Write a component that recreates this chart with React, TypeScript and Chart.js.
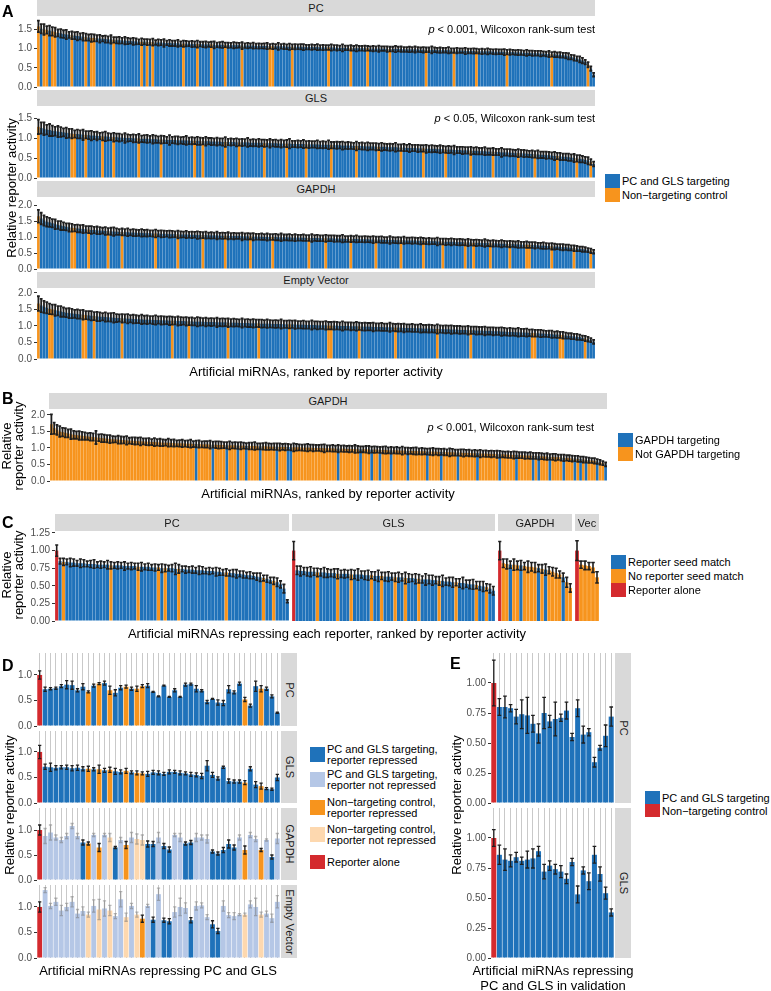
import React, { useEffect, useRef } from "react";
import { Chart, registerables } from "chart.js";
Chart.register(...registerables);

const FONT = '"Liberation Sans", Arial, Helvetica, sans-serif';
const BLUE = "#1f72ba";
const ORANGE = "#f7941d";
const RED = "#d42a2e";
const LBLUE = "#b5c7e6";
const LORANGE = "#fdd8af";
const STRIP = "#d9d9d9";
const ERR = "#1e1e1e";
const ERR_LIGHT = "rgba(120,120,120,0.55)";

// ---------- Panel A (relative activity x100, ranked) ----------
const A_PC = [
  158,152,150,149,147,145,143,141,140,138,137,136,135,134,133,132,131,130,129,128,
  128,127,126,126,125,124,124,123,122,122,121,121,120,120,119,119,118,118,118,117,
  117,117,116,116,116,115,115,115,114,114,114,113,113,113,113,112,112,112,112,111,
  111,111,111,110,110,110,110,110,109,109,109,109,109,108,108,108,108,108,107,107,
  107,107,107,106,106,106,106,106,106,105,105,105,105,105,105,104,104,104,104,104,
  104,103,103,103,103,103,103,102,102,102,102,102,102,101,101,101,101,101,101,100,
  100,100,100,100,100,99,99,99,99,99,99,98,98,98,98,98,98,97,97,97,
  97,97,97,96,96,96,96,96,95,95,95,95,95,94,94,94,94,94,93,93,
  93,93,93,92,92,92,92,91,91,91,91,90,90,90,89,89,89,88,88,88,
  87,87,86,86,85,85,84,84,83,82,80,78,76,74,72,69,65,58,48,32,
];
const A_PC_ERR = [
  15,12,14,10,13,11,12,9,11,10,12,8,10,9,11,8,10,9,8,10,
  9,8,10,7,9,8,11,7,8,9,7,10,8,7,9,8,6,9,7,8,
  7,9,6,8,7,10,6,8,7,7,9,6,8,7,6,8,7,9,6,7,
  8,6,7,9,6,7,8,6,7,6,8,7,6,9,6,7,6,8,6,7,
  6,7,8,6,7,6,9,6,7,6,8,6,7,6,7,8,6,6,7,6,
  8,6,7,6,6,8,6,7,6,9,6,6,7,6,8,6,6,7,6,6,
  7,6,8,6,6,7,6,6,8,6,7,6,6,7,6,8,6,6,7,6,
  6,9,6,6,7,6,6,8,6,6,7,6,6,8,6,6,7,6,6,7,
  6,8,6,6,7,6,6,8,6,7,6,6,7,6,6,8,6,7,6,6,
  7,6,6,8,6,7,6,7,6,7,8,6,7,6,8,7,6,7,6,5,
];
const A_PC_CTRL = [0,2,3,5,6,12,17,19,20,27,37,39,41,52,57,62,67,73,83,84,91,104,112,118,126,139,149,157,168,184,197];

const A_GLS = [
  128,125,123,121,120,118,117,116,115,114,113,112,111,110,110,109,108,108,107,106,
  106,105,105,104,104,103,103,102,102,101,101,100,100,100,99,99,99,98,98,98,
  97,97,97,96,96,96,95,95,95,95,94,94,94,94,93,93,93,93,92,92,
  92,92,91,91,91,91,90,90,90,90,90,89,89,89,89,89,88,88,88,88,
  88,87,87,87,87,87,86,86,86,86,86,85,85,85,85,85,84,84,84,84,
  84,83,83,83,83,82,82,82,82,81,81,81,81,80,80,80,80,79,79,79,
  79,78,78,78,78,77,77,77,77,76,76,76,75,75,75,75,74,74,74,73,
  73,73,73,72,72,72,71,71,71,70,70,70,69,69,69,68,68,68,67,67,
  67,66,66,66,65,65,64,64,64,63,63,62,62,62,61,61,60,60,59,59,
  58,58,57,57,56,55,55,54,53,53,52,51,50,49,48,47,45,43,40,35,
];
const A_GLS_ERR = [
  18,14,16,12,15,13,11,14,12,10,13,11,12,9,11,10,13,9,10,12,
  9,11,8,10,12,9,8,11,9,10,8,12,9,8,10,9,11,8,9,10,
  8,11,9,8,10,9,8,12,8,9,10,8,9,11,8,9,8,10,9,8,
  11,8,9,8,10,8,9,12,8,9,8,10,8,9,8,11,8,9,8,10,
  8,9,8,11,8,9,8,10,8,9,12,8,8,9,8,10,8,9,8,8,
  10,8,9,8,11,8,8,9,8,10,8,9,8,8,11,8,9,8,10,8,
  8,9,8,10,8,8,9,8,11,8,8,9,8,10,8,8,9,8,8,10,
  8,9,8,8,10,8,8,9,8,11,8,8,9,8,8,10,8,9,8,8,
  10,8,8,9,8,8,11,8,8,9,8,8,10,8,9,8,8,9,8,10,
  8,8,9,8,8,10,8,9,8,8,9,8,10,8,9,8,8,9,7,6,
];
const A_GLS_CTRL = [0,12,13,17,23,27,36,44,56,59,67,72,81,89,96,105,114,122,130,138,146,155,163,172,178,186,193,198];

const A_GAPDH = [
  165,158,152,148,146,143,140,138,136,134,132,130,129,128,127,126,125,124,123,122,
  122,121,120,120,119,118,118,117,117,116,116,115,115,114,114,113,113,113,112,112,
  112,111,111,111,110,110,110,109,109,109,108,108,108,108,107,107,107,106,106,106,
  106,105,105,105,105,104,104,104,104,103,103,103,103,102,102,102,102,101,101,101,
  101,100,100,100,100,100,99,99,99,99,99,98,98,98,98,98,97,97,97,97,
  97,96,96,96,96,96,95,95,95,95,94,94,94,94,94,93,93,93,93,92,
  92,92,92,92,91,91,91,91,90,90,90,90,89,89,89,89,88,88,88,87,
  87,87,87,86,86,86,85,85,85,85,84,84,84,83,83,83,82,82,82,81,
  81,81,80,80,80,79,79,79,78,78,78,77,77,76,76,76,75,75,74,74,
  73,73,72,72,71,70,70,69,68,68,67,66,65,64,63,62,61,59,57,54,
];
const A_GAPDH_ERR = [
  20,18,16,15,14,13,15,12,14,12,11,13,12,10,12,11,13,10,11,12,
  10,12,11,9,12,10,11,13,10,9,11,10,12,9,11,10,9,12,10,11,
  9,10,12,9,11,10,9,11,10,9,12,10,9,11,9,10,9,12,10,9,
  11,9,10,9,12,9,10,9,11,9,10,9,9,12,9,10,9,11,9,9,
  10,9,11,9,9,10,9,12,9,9,10,9,11,9,9,10,9,9,12,9,
  10,9,9,11,9,9,10,9,9,12,9,9,10,9,11,9,9,10,9,9,
  11,9,9,10,9,9,12,9,9,10,9,11,9,9,10,9,9,11,9,9,
  10,9,9,12,9,9,10,9,11,9,9,10,9,9,11,9,9,10,9,9,
  12,9,9,10,9,9,11,9,9,10,9,9,11,9,9,10,9,9,10,8,
  9,10,9,8,10,9,8,9,10,8,9,8,9,8,7,8,7,6,7,6,
];
const A_GAPDH_CTRL = [0,12,13,18,25,30,42,50,59,67,76,84,97,103,112,121,130,138,145,153,156,162,169,175,176,184,192,198];

const A_EV = [
  168,162,158,155,152,150,148,146,144,142,140,139,138,137,136,135,134,133,132,131,
  130,129,128,128,127,126,126,125,124,124,123,123,122,122,121,121,120,120,119,119,
  119,118,118,118,117,117,117,116,116,116,115,115,115,114,114,114,113,113,113,113,
  112,112,112,112,111,111,111,111,110,110,110,110,109,109,109,109,108,108,108,108,
  107,107,107,107,106,106,106,106,105,105,105,105,104,104,104,104,103,103,103,103,
  102,102,102,102,101,101,101,101,100,100,100,100,99,99,99,99,98,98,98,98,
  97,97,97,97,96,96,96,96,95,95,95,94,94,94,94,93,93,93,92,92,
  92,92,91,91,91,90,90,90,89,89,89,88,88,88,87,87,87,86,86,86,
  85,85,85,84,84,84,83,83,82,82,82,81,81,80,80,80,79,79,78,78,
  77,77,76,76,75,74,74,73,72,71,70,69,68,67,66,64,62,60,57,52,
];
const A_EV_ERR = [
  22,20,18,17,16,15,17,14,16,14,13,15,14,12,14,13,15,12,13,14,
  12,14,13,11,14,12,13,15,12,11,13,12,14,11,13,12,11,14,12,13,
  11,12,14,11,13,12,11,13,12,11,14,12,11,13,11,12,11,14,12,11,
  13,11,12,11,14,11,12,11,13,11,12,11,11,14,11,12,11,13,11,11,
  12,11,13,11,11,12,11,14,11,11,12,11,13,11,11,12,11,11,14,11,
  12,11,11,13,11,11,12,11,11,14,11,11,12,11,13,11,11,12,11,11,
  13,11,11,12,11,11,14,11,11,12,11,13,11,11,12,11,11,13,11,11,
  12,11,11,14,11,11,12,11,13,11,11,12,11,11,13,11,11,12,11,11,
  13,11,11,12,11,11,13,11,11,12,11,11,13,11,11,12,10,11,10,10,
  11,10,9,10,11,9,10,9,10,9,8,9,8,9,8,7,8,7,6,6,
];
const A_EV_CTRL = [0,4,5,16,17,20,30,48,54,68,79,90,104,105,115,128,143,155,177,178,187,188,196];

// ---------- Panel B ----------
const B_GAPDH = [
  172,160,155,150,148,146,144,142,140,139,138,137,136,135,134,133,132,131,130,129,
  128,127,126,126,125,124,124,123,122,122,121,121,120,120,119,119,118,118,117,117,
  116,116,116,115,115,114,114,114,113,113,113,112,112,112,111,111,111,110,110,110,
  109,109,109,108,108,108,108,107,107,107,106,106,106,106,105,105,105,105,104,104,
  104,104,103,103,103,103,102,102,102,102,101,101,101,101,100,100,100,100,99,99,
  99,99,98,98,98,98,97,97,97,97,96,96,96,96,95,95,95,95,94,94,
  94,93,93,93,93,92,92,92,91,91,91,91,90,90,90,89,89,89,89,88,
  88,88,87,87,87,86,86,86,85,85,85,84,84,84,83,83,83,82,82,82,
  81,81,81,80,80,79,79,79,78,78,77,77,77,76,76,75,75,74,74,73,
  73,72,72,71,70,70,69,68,68,67,66,65,64,63,62,61,59,57,54,50,
];
const B_ERR = [
  30,17,15,16,13,14,12,15,12,11,13,12,11,10,12,11,20,10,12,11,
  11,12,10,9,12,11,10,13,9,10,11,10,12,9,10,11,9,12,10,11,
  10,9,12,10,11,9,10,11,9,10,12,9,10,11,9,10,10,12,9,10,
  11,10,9,10,12,9,10,10,11,9,9,10,10,12,9,9,10,11,10,9,
  10,10,11,9,10,9,9,12,10,9,9,10,11,9,10,9,9,10,12,9,
  9,10,9,11,9,10,9,10,9,12,10,9,9,10,11,9,10,9,9,10,
  11,9,10,9,10,9,12,9,10,9,10,11,9,10,9,9,10,11,9,10,
  9,10,9,12,10,9,9,10,11,9,10,9,10,9,11,9,10,9,10,9,
  11,10,9,9,10,9,11,10,9,9,10,9,10,9,9,10,9,9,10,8,
  9,10,8,9,10,8,9,9,8,9,8,9,8,8,7,8,7,7,6,6,
];
const B_TARGETING = [52,58,63,67,70,75,81,85,86,103,111,115,118,122,128,135,140,146,153,161,167,173,175,179,184,188,190,192,196,199];

// ---------- Panel C (index 0 = reporter alone) ----------
const C_PC = [100,85,84,84,83,83,82,82,82,81,81,81,80,80,80,80,79,79,79,79,78,78,78,78,77,77,77,77,76,76,76,75,75,75,75,74,74,74,73,73,73,72,72,72,71,71,71,70,70,69,69,68,68,67,67,66,65,65,64,63,62,61,60,58,57,55,52,46,28];
const C_PC_ERR = [8,4,5,4,6,5,4,6,5,4,5,6,4,5,4,6,5,4,5,4,6,4,5,4,5,6,4,5,4,5,4,6,5,4,5,8,6,4,5,4,5,4,6,5,4,5,4,6,5,4,5,4,5,6,4,5,4,5,4,5,6,4,5,4,5,6,5,6,2];
const C_PC_NOSEED = [2,16,24,30,32,36,50,61,64];
const C_GLS = [100,72,71,71,70,70,70,69,69,69,68,68,68,67,67,67,67,66,66,66,66,65,65,65,64,64,64,63,63,63,62,62,62,61,61,61,60,60,59,59,59,58,58,57,57,56,56,55,55,54,54,53,52,52,51,50,49,48,46,43];
const C_GLS_ERR = [13,6,7,5,6,7,5,6,5,7,6,5,6,7,5,6,5,7,6,8,5,6,7,5,6,8,5,6,7,5,6,7,5,8,6,5,7,6,5,8,6,7,5,6,8,5,6,7,5,6,8,5,6,7,5,6,7,5,6,6];
const C_GLS_NOSEED = [7,13,17,23,26,30,33,37,43,48,54,57];
const C_GAPDH = [100,82,81,80,80,79,79,78,77,77,76,75,74,73,72,70,68,66,62,55,47];
const C_GAPDH_ERR = [13,6,7,5,8,6,7,5,8,6,7,5,6,8,5,6,7,5,6,7,6];
const C_GAPDH_SEED = [3,6,11,13,18];
const C_VEC = [100,80,79,78,76,62];
const C_VEC_ERR = [14,5,6,5,7,8];
const C_VEC_SEED: number[] = [];

// ---------- Panel D (45 bars, index 0 = reporter alone) ----------
const D_PC = [100,72,73,74,78,81,80,70,77,67,79,83,84,70,65,75,77,73,73,78,79,67,58,79,57,70,57,81,82,73,69,47,53,46,45,72,66,83,52,40,78,73,73,58,26];
const D_PC_ERR = [8,4,2,2,3,8,8,3,6,2,3,2,4,8,6,4,3,3,5,3,4,1,1,1,1,3,1,3,2,6,2,3,1,5,5,7,3,3,4,3,10,6,3,3,1];
const D_GLS = [100,71,70,69,70,70,68,69,67,67,66,66,64,65,62,61,63,60,59,58,57,60,59,57,61,61,59,58,56,55,53,73,55,48,70,43,42,42,40,67,36,33,28,27,50];
const D_GLS_ERR = [13,5,8,4,3,4,5,5,4,5,3,8,4,5,6,4,5,3,4,3,5,4,4,3,4,3,4,3,4,4,5,10,5,3,2,4,3,3,4,4,6,6,2,2,6];
const D_GAPDH = [100,88,95,85,80,88,108,88,75,73,90,65,90,85,65,80,70,85,82,80,72,72,85,68,61,90,85,73,75,85,85,82,57,53,60,72,65,85,60,90,82,60,80,46,83];
const D_GAPDH_ERR = [10,15,15,5,5,5,5,5,5,3,3,8,3,8,2,5,7,10,10,10,6,5,10,5,5,3,8,3,4,8,5,8,3,3,5,8,5,5,8,5,5,3,2,4,10];
const D_EV = [100,133,102,110,93,100,110,87,92,85,102,95,97,93,82,115,80,102,85,77,102,75,125,74,72,90,100,98,74,102,103,80,66,53,102,84,82,85,85,105,100,85,87,78,110];
const D_EV_ERR = [10,5,5,7,10,7,10,8,8,5,12,20,15,10,5,15,8,5,5,7,3,5,12,4,5,10,17,10,5,8,5,5,7,5,10,5,7,2,3,7,17,5,5,8,12];
const D_CONTROLS = [9,11,13,16,18,19,38,41];
const D_REPRESSED_GAPDH = [8,9,11,14,16,20,21,23,24,27,28,32,33,34,35,36,38,41,43];
const D_REPRESSED_EV = [19,21,23,24,28,32,33];

// ---------- Panel E (22 bars, index 0 = control) ----------
const E_PC = [100,80,80,79,72,74,73,66,58,75,68,70,71,77,55,79,57,59,34,46,56,72];
const E_PC_ERR = [19,7,9,3,6,12,15,7,8,13,5,14,3,7,3,7,7,3,4,2,9,8];
const E_GLS = [100,86,82,81,84,81,82,83,89,72,77,74,72,66,80,53,73,64,86,70,54,38];
const E_GLS_ERR = [7,8,9,5,4,3,7,8,4,6,4,4,5,4,3,7,3,7,7,6,5,3];

const TICKS_A = [0, 0.5, 1, 1.5];
const TICKS_A2 = [0, 0.5, 1, 1.5, 2];
const TICKS_C = [0, 0.25, 0.5, 0.75, 1, 1.25];
const TICKS_D = [0, 0.5, 1];
const TICKS_E = [0, 0.25, 0.5, 0.75, 1];

// ---------- colour builders ----------
const ctrlColors = (n: number, ctrl: number[]) =>
  Array.from({ length: n }, (_, i) => (ctrl.includes(i) ? ORANGE : BLUE));
const bColors = (n: number, tgt: number[]) =>
  Array.from({ length: n }, (_, i) => (tgt.includes(i) ? BLUE : ORANGE));
const cColors = (n: number, list: number[], inList: string, other: string) =>
  Array.from({ length: n }, (_, i) => (i === 0 ? RED : list.includes(i) ? inList : other));
const dColors = (n: number, rep: number[] | null) =>
  Array.from({ length: n }, (_, i) => {
    if (i === 0) return RED;
    const c = D_CONTROLS.includes(i);
    const r = rep === null || rep.includes(i);
    return c ? (r ? ORANGE : LORANGE) : r ? BLUE : LBLUE;
  });
const dErrColors = (n: number, rep: number[] | null) =>
  Array.from({ length: n }, (_, i) => (i === 0 || rep === null || rep.includes(i) ? ERR : ERR_LIGHT));
const eColors = (n: number) => Array.from({ length: n }, (_, i) => (i === 0 ? RED : BLUE));

// ---------- chart component ----------
function Bars(p: any) {
  const ref = useRef<HTMLCanvasElement>(null);
  const PAD = 8;
  useEffect(() => {
    const vals = p.values.map((v: number) => v / 100);
    const errs = p.errors.map((v: number) => v / 100);
    const capFrac = p.capFrac ?? 0.42;
    const errW = p.errW ?? 1;
    const chart = new Chart(ref.current as HTMLCanvasElement, {
      type: "bar",
      data: {
        labels: vals.map((_: number, i: number) => String(i)),
        datasets: [
          {
            data: vals,
            backgroundColor: p.colors,
            borderWidth: 0,
            barPercentage: p.barPct ?? 0.9,
            categoryPercentage: 1,
          },
        ],
      },
      options: {
        responsive: false,
        animation: false,
        events: [],
        layout: { padding: { top: PAD, bottom: PAD, left: 0, right: 0 } },
        plugins: { legend: { display: false }, tooltip: { enabled: false } },
        scales: {
          x: {
            type: "category",
            offset: true,
            display: !!p.grid,
            grid: { display: !!p.grid, offset: false, drawTicks: false, color: "#c9c9c9", lineWidth: 1 },
            ticks: { display: false, autoSkip: false },
            border: { display: false },
          },
          y: {
            min: 0,
            max: p.yMax,
            display: p.axisW > 0,
            afterFit: (s: any) => {
              s.width = p.axisW;
              s.paddingTop = 0;
              s.paddingBottom = 0;
            },
            afterBuildTicks: (s: any) => {
              s.ticks = (p.ticks || []).map((v: number) => ({ value: v }));
            },
            ticks: {
              autoSkip: false,
              callback: (v: any) => Number(v).toFixed(p.dec ?? 1),
              color: "#4d4d4d",
              font: { family: FONT, size: 10 },
              padding: 2,
            },
            grid: { drawOnChartArea: false, drawTicks: true, tickLength: 3, color: "#333333", lineWidth: 1 },
            border: { display: false },
          },
        },
      } as any,
      plugins: [
        {
          id: "errbars",
          afterDatasetsDraw(c: any) {
            const ctx = c.ctx;
            const xs = c.scales.x;
            const ys = c.scales.y;
            const step = (c.chartArea.right - c.chartArea.left) / vals.length;
            const cw = step * capFrac;
            ctx.save();
            vals.forEach((v: number, i: number) => {
              const e = errs[i];
              if (e == null || isNaN(e)) return;
              const x = xs.getPixelForValue(i);
              const y1 = ys.getPixelForValue(v - e);
              const y2 = ys.getPixelForValue(v + e);
              ctx.strokeStyle = (p.errColors && p.errColors[i]) || ERR;
              ctx.lineWidth = errW;
              ctx.beginPath();
              ctx.moveTo(x, y1);
              ctx.lineTo(x, y2);
              ctx.moveTo(x - cw, y1);
              ctx.lineTo(x + cw, y1);
              ctx.moveTo(x - cw, y2);
              ctx.lineTo(x + cw, y2);
              ctx.stroke();
            });
            ctx.restore();
          },
        },
      ],
    });
    return () => chart.destroy();
  }, []);
  return (
    <canvas
      ref={ref}
      width={p.axisW + p.width}
      height={p.height + 2 * PAD}
      style={{ position: "absolute", left: p.left - p.axisW, top: p.top - PAD, width: p.axisW + p.width, height: p.height + 2 * PAD }}
    />
  );
}

// ---------- text helpers ----------
function Txt({ x, y, children, size = 13, anchor = "start", weight = 400, color = "#000" }: any) {
  const tx = anchor === "middle" ? "-50%" : anchor === "end" ? "-100%" : "0";
  return (
    <div
      style={{
        position: "absolute", left: x, top: y, transform: `translate(${tx},-50%)`,
        fontFamily: FONT, fontSize: size, fontWeight: weight, color, whiteSpace: "nowrap", lineHeight: 1.15,
      }}
    >
      {children}
    </div>
  );
}
function VTxt({ x, y, lines, size = 13, rot = -90, lh = 13, color = "#000" }: any) {
  return (
    <div
      style={{
        position: "absolute", left: x, top: y, transform: `translate(-50%,-50%) rotate(${rot}deg)`,
        fontFamily: FONT, fontSize: size, color, whiteSpace: "nowrap", lineHeight: lh + "px", textAlign: "center",
      }}
    >
      {lines.map((l: string, i: number) => (
        <div key={i}>{l}</div>
      ))}
    </div>
  );
}
function Strip({ x, y, w, h, label, vertical }: any) {
  return (
    <div style={{ position: "absolute", left: x, top: y, width: w, height: h, background: STRIP }}>
      <div
        style={{
          position: "absolute", left: "50%", top: "50%",
          transform: `translate(-50%,-50%)${vertical ? " rotate(90deg)" : ""}`,
          fontFamily: FONT, fontSize: 11, color: "#1a1a1a", whiteSpace: "nowrap", lineHeight: 1,
        }}
      >
        {label}
      </div>
    </div>
  );
}
function Key({ x, y, w = 15, h = 14, color, lines, size = 11, lh = 11 }: any) {
  return (
    <>
      <div style={{ position: "absolute", left: x, top: y, width: w, height: h, background: color }} />
      <div
        style={{
          position: "absolute", left: x + w + 2, top: y + h / 2, transform: "translate(0,-50%)",
          fontFamily: FONT, fontSize: size, lineHeight: lh + "px", color: "#000", whiteSpace: "nowrap",
        }}
      >
        {lines.map((l: string, i: number) => (
          <div key={i}>{l}</div>
        ))}
      </div>
    </>
  );
}
const PVal = ({ x, y, text }: any) => (
  <Txt x={x} y={y} size={11} anchor="end">
    <span style={{ fontStyle: "italic" }}>p</span>
    {text}
  </Txt>
);

export default function App() {
  const denseA = { axisW: 37, left: 37, width: 558, capFrac: 0.5, errW: 1.8, barPct: 0.96 };
  const denseC = { capFrac: 0.45, errW: 1.6, barPct: 0.94, top: 522, height: 99, yMax: 1.406 };
  return (
    <div style={{ position: "absolute", left: 0, top: 0, width: 771, height: 991, background: "#fff", overflow: "hidden" }}>
      {/* ---------- Panel A ---------- */}
      <Bars {...denseA} top={18} height={69} yMax={1.8} ticks={TICKS_A} values={A_PC} errors={A_PC_ERR} colors={ctrlColors(A_PC.length, A_PC_CTRL)} />
      <Bars {...denseA} top={108} height={70} yMax={1.75} ticks={TICKS_A} values={A_GLS} errors={A_GLS_ERR} colors={ctrlColors(A_GLS.length, A_GLS_CTRL)} />
      <Bars {...denseA} top={199} height={70} yMax={2.19} ticks={TICKS_A2} values={A_GAPDH} errors={A_GAPDH_ERR} colors={ctrlColors(A_GAPDH.length, A_GAPDH_CTRL)} />
      <Bars {...denseA} top={290} height={69} yMax={2.09} ticks={TICKS_A2} values={A_EV} errors={A_EV_ERR} colors={ctrlColors(A_EV.length, A_EV_CTRL)} />
      <Strip x={37} y={0} w={558} h={16} label="PC" />
      <Strip x={37} y={90} w={558} h={16} label="GLS" />
      <Strip x={37} y={181} w={558} h={16} label="GAPDH" />
      <Strip x={37} y={272} w={558} h={16} label="Empty Vector" />
      <PVal x={595} y={29} text=" < 0.001, Wilcoxon rank-sum test" />
      <PVal x={595} y={118} text=" < 0.05, Wilcoxon rank-sum test" />
      <Txt x={2} y={12} size={16} weight={700}>A</Txt>
      <VTxt x={11} y={188} lines={["Relative reporter activity"]} />
      <Txt x={316} y={372} anchor="middle">Artificial miRNAs, ranked by reporter activity</Txt>
      <Key x={605} y={174} color={BLUE} lines={["PC and GLS targeting"]} />
      <Key x={605} y={188} color={ORANGE} lines={["Non\u2212targeting control"]} />

      {/* ---------- Panel B ---------- */}
      <Bars axisW={50} left={50} width={557} top={411} height={70} yMax={2.12} ticks={TICKS_A2} capFrac={0.5} errW={1.8} barPct={0.96} values={B_GAPDH} errors={B_ERR} colors={bColors(B_GAPDH.length, B_TARGETING)} />
      <Strip x={49} y={393} w={558} h={16} label="GAPDH" />
      <PVal x={594} y={427} text=" < 0.001, Wilcoxon rank-sum test" />
      <Txt x={2} y={399} size={16} weight={700}>B</Txt>
      <VTxt x={13} y={446} lh={12} lines={["Relative", "reporter activity"]} />
      <Txt x={328} y={494} anchor="middle">Artificial miRNAs, ranked by reporter activity</Txt>
      <Key x={618} y={433} color={BLUE} lines={["GAPDH targeting"]} />
      <Key x={618} y={447} color={ORANGE} lines={["Not GAPDH targeting"]} />

      {/* ---------- Panel C ---------- */}
      <Strip x={55} y={514} w={234} h={17} label="PC" />
      <Strip x={292} y={514} w={203} h={17} label="GLS" />
      <Strip x={498} y={514} w={74} h={17} label="GAPDH" />
      <Strip x={575} y={514} w={24} h={17} label="Vec" />
      <Bars {...denseC} axisW={55} left={55} width={234} ticks={TICKS_C} dec={2} values={C_PC} errors={C_PC_ERR} colors={cColors(C_PC.length, C_PC_NOSEED, ORANGE, BLUE)} />
      <Bars {...denseC} axisW={0} left={292} width={203} values={C_GLS} errors={C_GLS_ERR} colors={cColors(C_GLS.length, C_GLS_NOSEED, ORANGE, BLUE)} />
      <Bars {...denseC} axisW={0} left={498} width={74} values={C_GAPDH} errors={C_GAPDH_ERR} colors={cColors(C_GAPDH.length, C_GAPDH_SEED, BLUE, ORANGE)} />
      <Bars {...denseC} axisW={0} left={575} width={24} values={C_VEC} errors={C_VEC_ERR} colors={cColors(C_VEC.length, C_VEC_SEED, BLUE, ORANGE)} />
      <Txt x={2} y={523} size={16} weight={700}>C</Txt>
      <VTxt x={13} y={575} lh={12} lines={["Relative", "reporter activity"]} />
      <Txt x={327} y={634} anchor="middle">Artificial miRNAs repressing each reporter, ranked by reporter activity</Txt>
      <Key x={611} y={555} color={BLUE} lines={["Reporter seed match"]} />
      <Key x={611} y={569} color={ORANGE} lines={["No reporter seed match"]} />
      <Key x={611} y={583} color={RED} lines={["Reporter alone"]} />

      {/* ---------- Panel D ---------- */}
      <Bars axisW={37} left={37} width={243} top={653} height={73} yMax={1.43} ticks={TICKS_D} grid barPct={0.9} capFrac={0.3} errW={1.3} values={D_PC} errors={D_PC_ERR} colors={dColors(D_PC.length, null)} errColors={dErrColors(D_PC.length, null)} />
      <Bars axisW={37} left={37} width={243} top={731} height={72} yMax={1.41} ticks={TICKS_D} grid barPct={0.9} capFrac={0.3} errW={1.3} values={D_GLS} errors={D_GLS_ERR} colors={dColors(D_GLS.length, null)} errColors={dErrColors(D_GLS.length, null)} />
      <Bars axisW={37} left={37} width={243} top={808} height={72} yMax={1.44} ticks={TICKS_D} grid barPct={0.9} capFrac={0.3} errW={1.3} values={D_GAPDH} errors={D_GAPDH_ERR} colors={dColors(D_GAPDH.length, D_REPRESSED_GAPDH)} errColors={dErrColors(D_GAPDH.length, D_REPRESSED_GAPDH)} />
      <Bars axisW={37} left={37} width={243} top={885} height={73} yMax={1.43} ticks={TICKS_D} grid barPct={0.9} capFrac={0.3} errW={1.3} values={D_EV} errors={D_EV_ERR} colors={dColors(D_EV.length, D_REPRESSED_EV)} errColors={dErrColors(D_EV.length, D_REPRESSED_EV)} />
      <Strip x={281} y={653} w={16} h={73} label="PC" vertical />
      <Strip x={281} y={731} w={16} h={72} label="GLS" vertical />
      <Strip x={281} y={808} w={16} h={72} label="GAPDH" vertical />
      <Strip x={281} y={885} w={16} h={73} label="Empty Vector" vertical />
      <Txt x={2} y={666} size={16} weight={700}>D</Txt>
      <VTxt x={9} y={805} lines={["Relative reporter activity"]} />
      <Txt x={158} y={971} anchor="middle">Artificial miRNAs repressing PC and GLS</Txt>
      <Key x={310} y={747} h={15} color={BLUE} lines={["PC and GLS targeting,", "reporter repressed"]} />
      <Key x={310} y={772} h={15} color={LBLUE} lines={["PC and GLS targeting,", "reporter not repressed"]} />
      <Key x={310} y={800} h={15} color={ORANGE} lines={["Non\u2212targeting control,", "reporter repressed"]} />
      <Key x={310} y={827} h={15} color={LORANGE} lines={["Non\u2212targeting control,", "reporter not repressed"]} />
      <Key x={310} y={855} h={14} color={RED} lines={["Reporter alone"]} />

      {/* ---------- Panel E ---------- */}
      <Bars axisW={45} left={491} width={123} top={653} height={150} yMax={1.25} ticks={TICKS_E} dec={2} grid barPct={0.9} capFrac={0.33} errW={1.3} values={E_PC} errors={E_PC_ERR} colors={eColors(E_PC.length)} />
      <Bars axisW={45} left={491} width={123} top={808} height={150} yMax={1.25} ticks={TICKS_E} dec={2} grid barPct={0.9} capFrac={0.33} errW={1.3} values={E_GLS} errors={E_GLS_ERR} colors={eColors(E_GLS.length)} />
      <Strip x={615} y={653} w={16} h={150} label="PC" vertical />
      <Strip x={615} y={808} w={16} h={150} label="GLS" vertical />
      <Txt x={450} y={664} size={16} weight={700}>E</Txt>
      <VTxt x={456} y={805} lines={["Relative reporter activity"]} />
      <Txt x={553} y={971} anchor="middle">Artificial miRNAs repressing</Txt>
      <Txt x={553} y={986} anchor="middle">PC and GLS in validation</Txt>
      <Key x={645} y={791} h={13} color={BLUE} lines={["PC and GLS targeting"]} />
      <Key x={645} y={804} h={13} color={RED} lines={["Non\u2212targeting control"]} />
    </div>
  );
}
